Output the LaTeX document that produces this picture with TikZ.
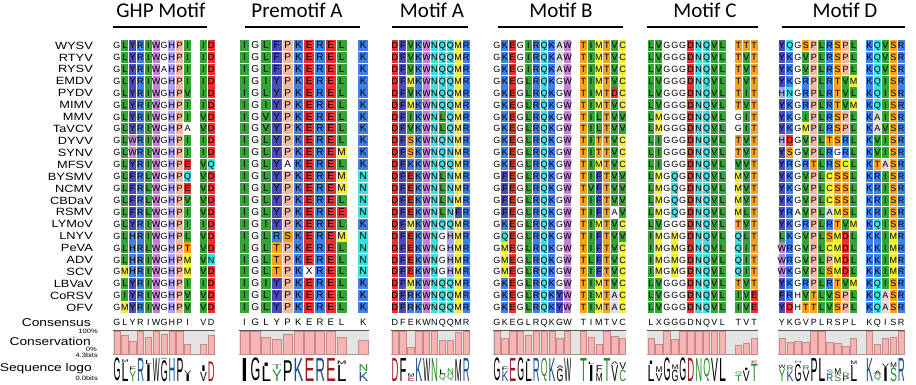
\documentclass[tikz,border=0pt]{standalone}
\usepackage{fontspec}
\usepackage{graphicx}
\setmainfont{Liberation Sans}
\newfontfamily\labfont[FakeStretch=1.22]{Liberation Sans}
\newfontfamily\resfont{Liberation Sans}
\newfontfamily\headfont{Carlito}
\definecolor{cGreen}{HTML}{36A336}
\definecolor{cIndigo}{HTML}{4B4BBE}
\definecolor{cBlue}{HTML}{3F7FE8}
\definecolor{cRed}{HTML}{E8302E}
\definecolor{cCyan}{HTML}{3CE0E0}
\definecolor{cYellow}{HTML}{F0F032}
\definecolor{cOrange}{HTML}{F7A21B}
\definecolor{cSalmon}{HTML}{F2B8A6}
\definecolor{cOrchid}{HTML}{C67FD6}
\definecolor{cLav}{HTML}{A9A6EE}
\definecolor{cGray}{HTML}{DCDCDC}
\definecolor{barPink}{HTML}{F5B5B5}
\definecolor{barEdge}{HTML}{C88888}
\definecolor{chartBg}{HTML}{E4E4E4}
\definecolor{chartLine}{HTML}{555555}
\definecolor{lRed}{HTML}{A01818}
\definecolor{lBlue}{HTML}{1A4F8A}
\definecolor{lGreen}{HTML}{2A8A2A}
\makeatletter
\def\cc@L{cGreen}\def\cc@I{cGreen}\def\cc@V{cGreen}
\def\cc@M{cYellow}\def\cc@C{cYellow}
\def\cc@F{cIndigo}\def\cc@Y{cIndigo}
\def\cc@R{cBlue}\def\cc@K{cBlue}\def\cc@b{cBlue}
\def\cc@D{cRed}\def\cc@E{cRed}
\def\cc@N{cCyan}\def\cc@Q{cCyan}
\def\cc@P{cSalmon}
\def\cc@T{cOrange}\def\cc@S{cOrange}
\def\cc@W{cOrchid}
\def\cc@H{cLav}
\def\cc@A{cGray}
\def\dd@b{H}
\def\lc@D{lRed}\def\lc@E{lRed}
\def\lc@K{lBlue}\def\lc@R{lBlue}\def\lc@H{lBlue}
\def\lc@S{lGreen}\def\lc@T{lGreen}\def\lc@Y{lGreen}\def\lc@C{lGreen}\def\lc@N{lGreen}\def\lc@Q{lGreen}
\newcount\ci
\def\seqrow#1#2#3#4#5#6{\edef\seq@str{#5}\ci=0 \expandafter\seq@do\expandafter{\seq@str}{#1}{#2}{#3}{#4}{#6}}
\def\seq@do#1#2#3#4#5#6{\@tfor\tk:=#1\do{\drawcell{#2}{#3}{#4}{#5}{#6}\advance\ci by 1 }}
\def\drawcell#1#2#3#4#5{%
 \if\tk.\else
  \pgfmathsetmacro\cx{#1+#2*\the\ci}%
  \ifnum#5=1
   \expandafter\ifx\csname cc@\tk\endcsname\relax\def\fc{white}\else\edef\fc{\csname cc@\tk\endcsname}\fi
   \fill[\fc] (\cx+0.5,#3-5.5) rectangle (\cx+#2-0.5,#3+5.5);
  \fi
  \expandafter\ifx\csname dd@\tk\endcsname\relax\edef\dl{\tk}\else\edef\dl{\csname dd@\tk\endcsname}\fi
  \node[inner sep=0pt,anchor=base,font=\resfont\fontsize{#4}{#4}\selectfont] at (\cx+#2/2,#3+3.2) {\expandafter\uppercase\expandafter{\dl}};
 \fi}
\def\chart#1#2#3{%
 \fill[chartBg] (#1,330.5) rectangle (#1+#2*#3,354.5);
 \draw[chartLine!60,line width=0.6pt] (#1,354.5)--(#1+#2*#3,354.5);
 \draw[chartLine,line width=1.5pt] (#1,330.5)--(#1+#2*#3,330.5);}
\def\bars#1#2#3{%
 \foreach \fr [count=\i from 0] in {#3} {%
  \ifdim\fr pt<0pt\else
   \pgfmathsetmacro\bx{#1+#2*\i}%
   \pgfmathsetmacro\bt{354.5-23*\fr}%
   \filldraw[fill=barPink,draw=barEdge,line width=0.5pt] (\bx+0.8,\bt) rectangle (\bx+#2-0.8,354.5);
  \fi}}
\def\lcolof#1{\expandafter\ifx\csname lc@#1\endcsname\relax\def\lcol{black}\else\edef\lcol{\csname lc@#1\endcsname}\fi}
\def\logo#1#2#3{%
 \foreach \lett/\fr/\lettb/\frb [count=\i from 0] in {#3} {%
  \ifdim\fr pt<0pt\else
   \pgfmathsetmacro\lx{#1+#2*\i+0.5}%
   \pgfmathsetmacro\lh{max(23*\fr,0.8)}%
   \pgfmathsetmacro\lw{#2-1}%
   \lcolof{\lett}%
   \node[inner sep=0pt,anchor=south west,text=\lcol] at (\lx,381.5) {\resizebox*{\lw pt}{\lh pt}{\resfont\lett}};
   \ifdim\frb pt>0pt
    \pgfmathsetmacro\lhb{23*\frb}%
    \pgfmathsetmacro\ly{381.5-\lh-0.3}%
    \lcolof{\lettb}%
    \node[inner sep=0pt,anchor=south west,text=\lcol] at (\lx,\ly) {\resizebox*{\lw pt}{\lhb pt}{\resfont\lettb}};
   \fi
  \fi}}
\makeatother
\tikzset{
 lab/.style={inner sep=0pt,font=\labfont\fontsize{10.5}{10.5}\selectfont},
 biglab/.style={inner sep=0pt,font=\labfont\fontsize{11.3}{11.3}\selectfont},
 tiny/.style={inner sep=0pt,font=\labfont\fontsize{6.2}{6.2}\selectfont},
 head/.style={inner sep=0pt,anchor=base,font=\headfont\fontsize{21}{21}\selectfont},
 headline/.style={line width=2.2pt}
}
\begin{document}
\begin{tikzpicture}[x=1pt,y=-1pt]
\useasboundingbox (0,0) rectangle (916,384);
\fill[white] (0,0) rectangle (916,384);
% headers
\node[head] (h1) at (161,17.5) {GHP Motif};
\node[head] (h2) at (297,17.5) {Premotif A};
\node[head] (h3) at (432,17.5) {Motif A};
\node[head] (h4) at (561,17.5) {Motif B};
\node[head] (h5) at (705,17.5) {Motif C};
\node[head] (h6) at (845,17.5) {Motif D};
\draw[headline] (113,27)--(207,27);
\draw[headline] (245,27)--(360,27);
\draw[headline] (392,27)--(468,27);
\draw[headline] (498,27)--(623,27);
\draw[headline] (647,27)--(758,27);
\draw[headline] (782,27)--(905,27);
% species
\foreach \s [count=\i from 0] in {WYSV,RTYV,RYSV,EMDV,PYDV,MIMV,MMV,TaVCV,DYVV,SYNV,MFSV,BYSMV,NCMV,CBDaV,RSMV,LYMoV,LNYV,PeVA,ADV,SCV,LBVaV,CoRSV,OFV}{
 \pgfmathsetmacro\yy{45.3+11.92*\i+3.8}
 \node[lab,anchor=base east] (sp\i) at (93,\yy) {\s};
}
% GHP motif
\foreach \s [count=\i from 0] in {GLYRIWGHPI.ID,GLYRIWGHPI.ID,GLYRIWaHPI.ID,GLYRIWGHPI.ID,GLYRIWGHPV.ID,GLYRIWGHPI.ID,GLYRIWGHPI.VD,GLYRIWGHPa.VD,GLWRIWGHPI.ID,GLWRIWGHPI.ID,GLYRIWGHPE.VQ,GLFRLWGHPQ.VD,GLFRLWGHPE.VD,GLFRLWGHPV.VD,GLFRLWGHPI.VD,GLYRIWGHPI.ID,GLbRIWGHPL.VD,GLbRLWGHPT.VD,GLbRIWGHPM.VN,GMbRIWGHPM.VD,GLYRIWGHPI.ID,GIYRIWGHPV.VD,GMYRIWGHPV.VD}{
 \pgfmathsetmacro\yy{45.3+11.92*\i}
 \seqrow{113}{7.85}{\yy}{9}{\s}{1}
}
% Premotif A
\foreach \s [count=\i from 0] in {IGLFPKEREL.K,IGLFPKEREL.K,IGLFPKEREL.K,IGIYPKEREL.K,IGLYPKEREL.K,IGIYPKEREL.K,IGVYPKEREL.K,IGVYPKEREL.K,IGLYPKEREL.K,IGLYPKEREM.K,IGLYaKEREL.K,IGLYPKEREM.N,IGLYPKEREM.N,IGLYPKEREL.N,IGLYPKEREE.N,IGIYPKEREL.K,IGLRSKEREM.N,IGLTPKEREL.N,IGLTPKEREL.N,IGLTPKXREL.N,IGIYPKEREL.K,IGLYPKEREL.K,IGLYPKEREL.K}{
 \pgfmathsetmacro\yy{45.3+11.92*\i}
 \seqrow{239}{10.8}{\yy}{10}{\s}{1}
}
% Motif A
\foreach \s [count=\i from 0] in {DFVKWNQQMR,DFVKWNQQMR,DFVKWNQQMR,DFMKWNQQMR,DFVKWNQQMR,DFMKWNQQMR,DFIKWNLQMR,DFVKWNLQMR,DFSKWNQNMR,DFSKWNQNMR,DFKKWNQQMR,DFEKWNLNMR,DFEKWNLNMR,DFEKWNLNMR,DFEKWNLNFR,DFMKWNQQMR,DFEKWNGHMR,DFEKWNGHMR,DFEKWNGHMR,DFEKWNGHMR,DFMKWNQQMR,DFRKWNQQMR,DFRKWNQQMR}{
 \pgfmathsetmacro\yy{45.3+11.92*\i}
 \seqrow{391}{7.9}{\yy}{9}{\s}{1}
}
% Motif B
\foreach \s [count=\i from 0] in {GKEGIRQKAW.TIMTVC,GKEGIRQKAW.TIMTVC,GKEGIRQKAW.TIMTVC,GKEGLRQKGW.TIMTVC,GKEGLRQKGW.TIMTDC,GKEGLRQKGW.TIMTVC,GKEGLRQKGW.TILTVV,GKEGLRQKGW.TILTVV,GKEGLRQKGW.TITTVC,GKEGLRQKGW.TITTVC,GKEGLRQKGW.TIMTVC,GFEGLRQKGW.TIFTVV,GFEGLRQKGW.TVFTVV,GFEGLRQKGW.TIFTVV,GFEGLRQKGW.TIFTaV,GKEGLRQKGW.TIMTVC,GQEGLRQKGW.TIFTVV,GMEGLRQKGW.TIFTVC,GMEGLRQKGW.TLFTVC,GMEGLRQKGW.TIFTVC,GKEGLRQKGW.TIMTVC,GKEGLRQKYW.TIMTAC,GKEGLRQKYW.TIMTAC}{
 \pgfmathsetmacro\yy{45.3+11.92*\i}
 \seqrow{493}{7.85}{\yy}{9}{\s}{1}
}
% Motif C
\foreach \s [count=\i from 0] in {LVGGGDNQVL.TTT,LVGGGDNQVL.TVT,LVGGGDNQVL.TVT,LVGGGDNQVL.TVT,LVGGGDNQVL.TIT,LVGGGDNQVL.TVT,LMGGGDNQVL.GIT,LMGGGDNQVL.GIT,LIGGGDNQVL.TVT,LIGGGDNQVL.TVT,LIGGGDNQVL.VVT,LMGQGDNQVL.MVT,LMGQGDNQVL.MVT,LMGQGDNQVL.MVT,LMGQGDNQVL.MLT,LVGGGDNQVL.TVT,IMGMGDNQVL.QLT,IMGMGDNQVL.QIT,IMGMGDNQVL.QIT,IMGMGDNQVL.QIT,LVGGGDNQVL.TVT,LVGGGDNQVL.IVE,LVGGGDNQVL.IVE}{
 \pgfmathsetmacro\yy{45.3+11.92*\i}
 \seqrow{647}{7.94}{\yy}{9}{\s}{1}
}
% Motif D
\foreach \s [count=\i from 0] in {YQGSPLRSPL.KQVSR,YKGVPLRSPL.KQVSR,YKGVPLRSPL.KQVSR,YKGRPLRTVM.KQISR,HNGRPLRTVL.KQISR,YKGRPLRTVM.KQISR,YKGIPLRSPL.KAISR,YKGMPLRSPL.KAVSR,HDGVPLTSRL.KVISR,YSGVPLRGRL.KVISR,YRGRTLRSCL.KTASR,YKGVPLCSSL.KRISR,YKGVPLCSSL.KRISR,YKGVPLCSSL.KRISR,YRaVPLAMSL.KRISR,YKGRPLRTVM.KQISR,LKGVPLSMDL.KKIMR,WRGVPLCMDL.KKIMR,WRGVPLPMDL.KKIMR,WKGVPLSMDL.KKIMR,YKGRPLRTVM.KQISR,FRhVTLVSPL.KQASR,YDhTTLVSPL.KQASR}{
 \pgfmathsetmacro\yy{45.3+11.92*\i}
 \seqrow{778}{7.95}{\yy}{9}{\s}{1}
}
% left labels
\node[biglab,anchor=base east] (lcons) at (91,326) {Consensus};
\node[tiny,anchor=base east] (l100) at (98,333) {100\%};
\node[biglab,anchor=base east] (lconv) at (91,345) {Conservation};
\node[tiny,anchor=base east] (l0) at (97,351) {0\%};
\node[tiny,anchor=base east] (l43) at (98,357.5) {4.3bits};
\node[biglab,anchor=base east] (llogo) at (92,371) {Sequence logo};
\node[tiny,anchor=base east] (l00) at (98,380) {0.0bits};
% consensus
\seqrow{113}{7.85}{322.5}{9}{GLYRIWGHPI.VD}{0}
\seqrow{239}{10.8}{322.5}{9.5}{IGLYPKEREL.K}{0}
\seqrow{391}{7.9}{322.5}{9}{DFEKWNQQMR}{0}
\seqrow{493}{7.85}{322.5}{9}{GKEGLRQKGW.TIMTVC}{0}
\seqrow{647}{7.94}{322.5}{9}{LXGGGDNQVL.TVT}{0}
\seqrow{778}{7.95}{322.5}{9}{YKGVPLRSPL.KQISR}{0}
% conservation charts
\chart{113}{7.85}{13}
\bars{113}{7.85}{1,.85,.57,1,.77,1,.9,1,1,.45,-1,.45,.85}
\chart{239}{10.8}{12}
\bars{239}{10.8}{1,1,.75,.68,.9,1,1,1,1,.75,-1,.63}
\chart{391}{7.9}{10}
\bars{391}{7.9}{1,1,.3,1,1,1,.6,.6,.95,1}
\chart{493}{7.85}{17}
\bars{493}{7.85}{1,.7,1,1,.85,1,1,1,.7,1,-1,1,.75,.45,1,.8,.7}
\chart{647}{7.94}{14}
\bars{647}{7.94}{.7,.45,1,.65,1,1,1,1,1,1,-1,.4,.5,.7}
\chart{778}{7.95}{16}
\bars{778}{7.95}{.7,.55,.58,.55,1,1,.55,.5,.35,.7,-1,1,.45,.7,.75,1}
% logos
\logo{113}{7.85}{G/1/x/0,L/.82/M/.12,Y/.45/F/.15,R/1/x/0,I/.72/L/.18,W/1/x/0,G/.92/A/.05,H/1/x/0,P/1/x/0,I/.3/V/.15,X/-1/x/0,V/.4/I/.25,D/.85/x/0}
\logo{239}{10.8}{I/1/x/0,G/1/x/0,L/.65/I/.15,Y/.5/T/.2,P/.9/x/0,K/1/x/0,E/1/x/0,R/1/x/0,E/1/x/0,L/.7/M/.15,X/-1/x/0,K/.4/N/.3}
\logo{391}{7.9}{D/1/x/0,F/1/x/0,E/.2/M/.12,K/1/x/0,W/1/x/0,N/1/x/0,Q/.3/L/.2,Q/.3/N/.25,M/.95/x/0,R/1/x/0}
\logo{493}{7.85}{G/1/x/0,K/.45/F/.15,E/1/x/0,G/1/x/0,L/.85/I/.1,R/1/x/0,Q/1/x/0,K/1/x/0,G/.55/A/.12,W/1/x/0,X/-1/x/0,T/1/x/0,I/.7/L/.1,M/.35/F/.3,T/1/x/0,V/.7/A/.12,C/.5/V/.3}
\logo{647}{7.94}{L/.7/I/.15,V/.35/M/.25,G/1/x/0,G/.5/M/.2,G/1/x/0,D/1/x/0,N/1/x/0,Q/1/x/0,V/1/x/0,L/1/x/0,X/-1/x/0,T/.25/Q/.15,V/.45/I/.1,T/.75/E/.1}
\logo{778}{7.95}{Y/.55/W/.15,K/.45/R/.2,G/.75/H/.1,V/.45/R/.2,P/1/x/0,L/1/x/0,R/.3/S/.2,S/.3/M/.25,P/.2/D/.15,L/.7/M/.15,X/-1/x/0,K/1/x/0,Q/.3/A/.15,I/.6/V/.15,S/.6/M/.2,R/1/x/0}
\end{tikzpicture}
\end{document}
